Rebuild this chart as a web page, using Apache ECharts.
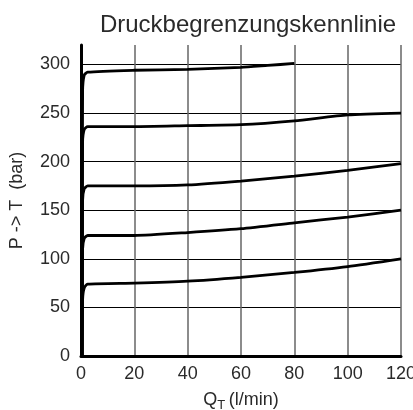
<!DOCTYPE html>
<html>
<head>
<meta charset="utf-8">
<script src="https://cdn.jsdelivr.net/npm/echarts@6/dist/echarts.min.js"></script>
<style>
  html, body { margin: 0; padding: 0; background: #fff; }
  #chart { width: 413px; height: 410px; }
</style>
</head>
<body>
<div id="chart"></div>
<script>
// Q_T (l/min) sample points, shared by the curves
const flow = [0.4, 0.6, 1.2, 2.5, 20, 40, 60, 80, 100, 120]
const flowTop = [0.4, 0.6, 1.2, 2.5, 20, 40, 60, 70, 80]

// P -> T (bar)
const p300 = [0, 272, 289, 292, 294, 295, 297, 299, 301]
const p250 = [0, 220, 233, 236, 236, 237, 238, 242, 248, 250]
const p200 = [0, 160, 172, 175, 175, 176, 180, 185, 191, 198]
const p150 = [0, 110, 121, 124, 124, 127, 131, 137, 143, 150]
const p100 = [0, 58, 70, 74, 75, 77, 81, 86, 92, 100]

function pairs(xs, ys) {
  return xs.map((x, i) => [x, ys[i]])
}

const chart = echarts.init(document.getElementById('chart'))
const font = 'Liberation Sans, Arial, sans-serif'
const ink = '#2a2a2a'

const curves = [pairs(flowTop, p300), pairs(flow, p250), pairs(flow, p200), pairs(flow, p150), pairs(flow, p100)]

chart.setOption({
  animation: false,
  title: {
    text: 'Druckbegrenzungskennlinie',
    left: 243,
    top: 8,
    textAlign: 'center',
    textStyle: { fontFamily: font, fontSize: 24, fontWeight: 'normal', color: ink }
  },
  grid: { left: 81, right: 12, top: 45, bottom: 54, outerBoundsMode: 'none' },
  xAxis: {
    type: 'value',
    min: 0,
    max: 120,
    interval: 20,
    name: '{q|Q}{s|T} {q|(l/min)}',
    nameLocation: 'middle',
    nameGap: 33,
    nameTextStyle: {
      rich: {
        q: { fontFamily: font, fontSize: 18, color: ink },
        s: { fontFamily: font, fontSize: 13, color: ink, verticalAlign: 'bottom', padding: [10, 0, 0, 0] }
      }
    },
    axisLine: { lineStyle: { color: '#000', width: 3 } },
    axisTick: { show: false },
    axisLabel: { fontFamily: font, fontSize: 18, color: ink, margin: 9 },
    splitLine: { show: true, lineStyle: { color: '#666', width: 1.5 } }
  },
  yAxis: {
    type: 'value',
    min: 0,
    max: 320,
    interval: 50,
    name: 'P -> T  (bar)',
    nameLocation: 'middle',
    nameGap: 55,
    nameTextStyle: { fontFamily: font, fontSize: 18, color: ink },
    axisLine: { show: true, lineStyle: { color: '#000', width: 3 } },
    axisTick: { show: false },
    axisLabel: { fontFamily: font, fontSize: 18, color: ink, margin: 11, showMaxLabel: false },
    splitLine: { show: true, showMaxLine: false, lineStyle: { color: '#000', width: 1 } }
  },
  series: curves.map(d => ({
    type: 'line',
    data: d,
    smooth: 0.2,
    showSymbol: false,
    lineStyle: { color: '#000', width: 2.8 }
  }))
})
</script>
</body>
</html>
